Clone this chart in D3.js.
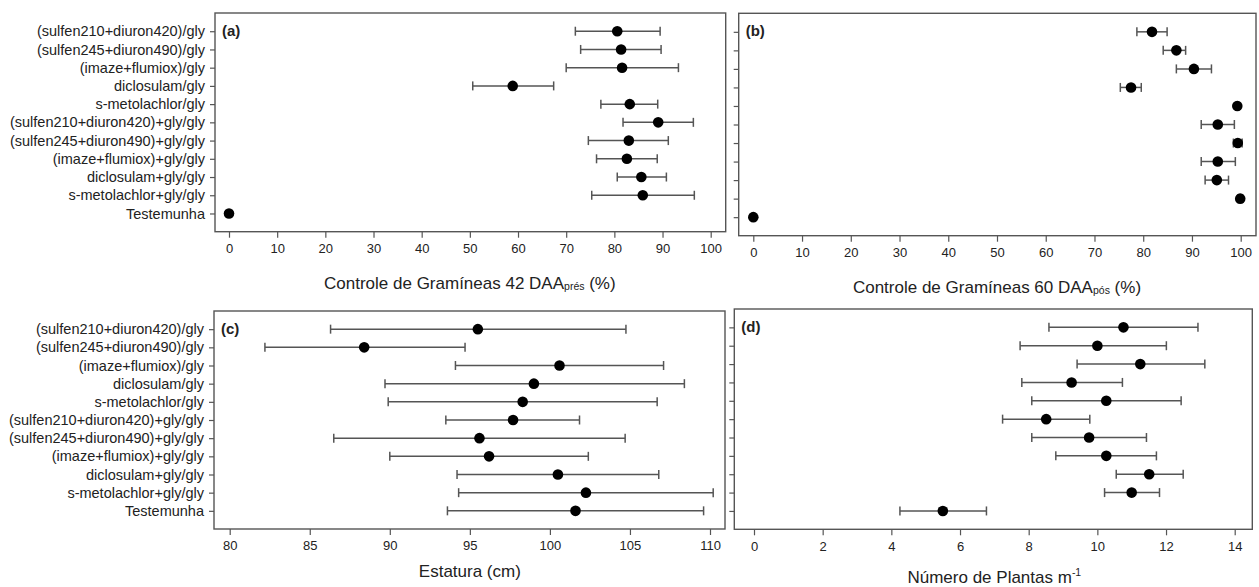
<!DOCTYPE html>
<html>
<head>
<meta charset="utf-8">
<script src="https://cdn.jsdelivr.net/npm/d3@7/dist/d3.min.js"></script>
<style>
  html, body { margin: 0; padding: 0; background: #fff; }
  svg { display: block; }
  text { font-family: "Liberation Sans", Arial, sans-serif; fill: #222; }
</style>
</head>
<body>
<svg id="chart" width="1259" height="587"></svg>
<script>
// ---------------- DATA ----------------
const categories = [
  "(sulfen210+diuron420)/gly",
  "(sulfen245+diuron490)/gly",
  "(imaze+flumiox)/gly",
  "diclosulam/gly",
  "s-metolachlor/gly",
  "(sulfen210+diuron420)+gly/gly",
  "(sulfen245+diuron490)+gly/gly",
  "(imaze+flumiox)+gly/gly",
  "diclosulam+gly/gly",
  "s-metolachlor+gly/gly",
  "Testemunha"
];

// (a) Controle de Gramíneas 42 DAA pré (%)
const aMean = [80.6, 81.4, 81.6, 58.9, 83.2, 89.1, 83.0, 82.6, 85.6, 85.9, 0];
const aLow  = [71.9, 73.0, 70.0, 50.6, 77.2, 81.8, 74.6, 76.3, 80.6, 75.3, 0];
const aHigh = [89.5, 89.7, 93.3, 67.4, 89.0, 96.4, 91.2, 88.9, 90.8, 96.6, 0];

// (b) Controle de Gramíneas 60 DAA pós (%)
const bMean = [81.8, 86.8, 90.4, 77.5, 99.3, 95.3, 99.4, 95.3, 95.1, 99.9, 0];
const bLow  = [78.7, 84.1, 86.8, 75.3, 99.0, 91.9, 98.5, 91.9, 92.7, 99.4, 0];
const bHigh = [84.9, 88.7, 94.0, 79.6, 99.6, 98.7, 100.3, 98.9, 97.5, 100.4, 0];

// (c) Estatura (cm)
const cMean = [95.5, 88.4, 100.6, 99.0, 98.3, 97.7, 95.6, 96.2, 100.5, 102.25, 101.6];
const cLow  = [86.3, 82.2, 94.1, 89.7, 89.9, 93.5, 86.5, 90.0, 94.2, 94.3, 93.6];
const cHigh = [104.75, 94.7, 107.1, 108.4, 106.7, 101.85, 104.7, 102.4, 106.8, 110.2, 109.6];

// (d) Número de Plantas m-1
const dMean = [10.76, 10.0, 11.25, 9.25, 10.26, 8.51, 9.76, 10.26, 11.51, 11.0, 5.5];
const dLow  = [8.59, 7.75, 9.41, 7.80, 8.09, 7.24, 8.09, 8.79, 10.55, 10.21, 4.25];
const dHigh = [12.93, 12.01, 13.13, 10.73, 12.44, 9.78, 11.43, 11.72, 12.50, 11.81, 6.77];

const aTicks = [0, 10, 20, 30, 40, 50, 60, 70, 80, 90, 100];
const bTicks = [0, 10, 20, 30, 40, 50, 60, 70, 80, 90, 100];
const cTicks = [80, 85, 90, 95, 100, 105, 110];
const dTicks = [0, 2, 4, 6, 8, 10, 12, 14];

// ---------------- DRAW ----------------
const svg = d3.select("#chart");

function drawPanel(p) {
  const g = svg.append("g");
  const x = d3.scaleLinear().domain(p.domain).range(p.xr);
  const y = d3.scalePoint().domain(categories).range([p.fy0, p.fy1]).padding(1);

  // x axis
  const xa = g.append("g")
    .attr("transform", `translate(0,${p.fy1})`)
    .call(d3.axisBottom(x).tickValues(p.ticks).tickSize(6).tickPadding(6).tickFormat(d3.format("d")));
  xa.select(".domain").remove();
  xa.selectAll("line").attr("stroke", "#555").attr("stroke-width", 1.2);
  xa.selectAll("text").style("font-size", "13px").attr("fill", "#222");

  // y axis
  const ya = g.append("g")
    .attr("transform", `translate(${p.fx0},0)`)
    .call(d3.axisLeft(y).tickSize(5).tickPadding(5));
  ya.select(".domain").remove();
  ya.selectAll("line").attr("stroke", "#555").attr("stroke-width", 1.2);
  if (p.labels) {
    ya.selectAll("text").style("font-size", "14.5px").attr("fill", "#222");
  } else {
    ya.selectAll("text").remove();
  }

  // frame
  g.append("rect")
    .attr("x", p.fx0).attr("y", p.fy0)
    .attr("width", p.fx1 - p.fx0).attr("height", p.fy1 - p.fy0)
    .attr("fill", "none").attr("stroke", "#555").attr("stroke-width", 1.4);

  // error bars
  const rows = categories.map((c, i) => ({ c, m: p.mean[i], lo: p.low[i], hi: p.high[i] }))
    .filter(d => d.hi > d.lo);
  const eb = g.append("g").attr("stroke", "#555").attr("stroke-width", 1.5);
  eb.selectAll("line.h").data(rows).join("line").attr("class", "h")
    .attr("x1", d => x(d.lo)).attr("x2", d => x(d.hi))
    .attr("y1", d => y(d.c)).attr("y2", d => y(d.c));
  eb.selectAll("line.l").data(rows).join("line").attr("class", "l")
    .attr("x1", d => x(d.lo)).attr("x2", d => x(d.lo))
    .attr("y1", d => y(d.c) - 4.5).attr("y2", d => y(d.c) + 4.5);
  eb.selectAll("line.r").data(rows).join("line").attr("class", "r")
    .attr("x1", d => x(d.hi)).attr("x2", d => x(d.hi))
    .attr("y1", d => y(d.c) - 4.5).attr("y2", d => y(d.c) + 4.5);

  // points
  g.selectAll("circle").data(categories).join("circle")
    .attr("cx", (c, i) => x(p.mean[i])).attr("cy", c => y(c))
    .attr("r", 5.3).attr("fill", "#000");

  // panel letter
  g.append("text").attr("x", p.fx0 + 7).attr("y", p.fy0 + 23)
    .style("font-size", "15px").style("font-weight", "bold").attr("fill", "#111")
    .text(p.letter);

  // axis title
  const t = g.append("text")
    .attr("x", (p.xr[0] + p.xr[1]) / 2).attr("y", p.titleY)
    .attr("text-anchor", "middle").style("font-size", "17px").attr("fill", "#222");
  t.append("tspan").text(p.title[0]);
  if (p.title[1]) {
    t.append("tspan").style("font-size", "10.5px")
      .attr("dy", p.subSup === "sup" ? "-7" : "1").text(p.title[1]);
  }
  if (p.title[2] !== undefined) {
    t.append("tspan").attr("dy", p.subSup === "sup" ? "7" : "-1").text(p.title[2]);
  }
}

drawPanel({ letter: "(a)", mean: aMean, low: aLow, high: aHigh, domain: [0, 100], ticks: aTicks,
  xr: [229, 710.7], fx0: 215, fx1: 725.7, fy0: 13, fy1: 231.7, labels: true,
  title: ["Controle de Gramíneas 42 DAA", "prés", " (%)"], subSup: "sub", titleY: 289 });

drawPanel({ letter: "(b)", mean: bMean, low: bLow, high: bHigh, domain: [0, 100], ticks: bTicks,
  xr: [753.3, 1240.7], fx0: 738.7, fx1: 1256, fy0: 13.3, fy1: 235.7, labels: false,
  title: ["Controle de Gramíneas 60 DAA", "pós", " (%)"], subSup: "sub", titleY: 293 });

drawPanel({ letter: "(c)", mean: cMean, low: cLow, high: cHigh, domain: [80, 110], ticks: cTicks,
  xr: [229.7, 710], fx0: 214, fx1: 725, fy0: 311, fy1: 529, labels: true,
  title: ["Estatura (cm)"], subSup: "sub", titleY: 577 });

drawPanel({ letter: "(d)", mean: dMean, low: dLow, high: dHigh, domain: [0, 14], ticks: dTicks,
  xr: [754, 1234.7], fx0: 734.3, fx1: 1252.3, fy0: 309, fy1: 529.3, labels: false,
  title: ["Número de Plantas m", "-1", ""], subSup: "sup", titleY: 583 });
</script>
</body>
</html>
